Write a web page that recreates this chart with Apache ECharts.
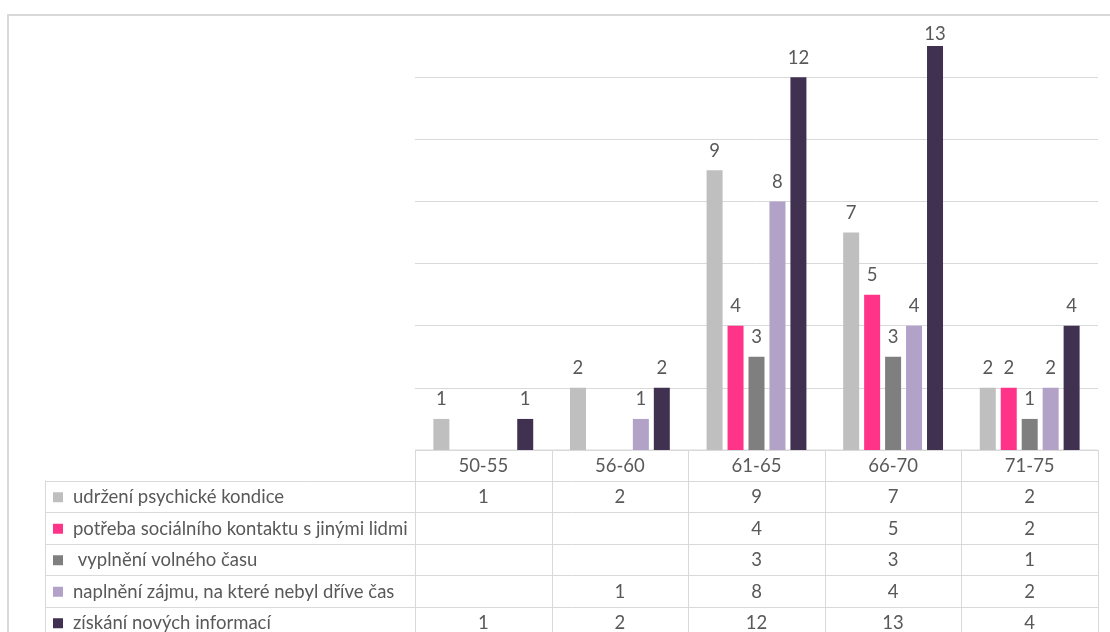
<!DOCTYPE html>
<html>
<head>
<meta charset="utf-8">
<style>
html,body{margin:0;padding:0;background:#fff;overflow:hidden;}
#c{width:1110px;height:632px;}
</style>
<script src="https://cdn.jsdelivr.net/npm/echarts@6/dist/echarts.min.js"></script>
</head>
<body>
<div id="c"></div>
<script>
const categories = ['50-55', '56-60', '61-65', '66-70', '71-75'];
const seriesNames = [
  'udržení psychické kondice',
  'potřeba sociálního kontaktu s jinými lidmi',
  ' vyplnění volného času',
  'naplnění zájmu, na které nebyl dříve čas',
  'získání nových informací'
];
const udrzeni = [1, 2, 9, 7, 2];
const potreba = [null, null, 4, 5, 2];
const vyplneni = [null, null, 3, 3, 1];
const naplneni = [null, 1, 8, 4, 2];
const ziskani = [1, 2, 12, 13, 4];
const seriesData = [udrzeni, potreba, vyplneni, naplneni, ziskani];
const colors = ['#bfbfbf', '#ff3388', '#7f7f7f', '#b3a2c7', '#403151'];

const FONT = 'Lato, "Open Sans", sans-serif';
const FS = 18.5;
const TXT = '#595959';
const LINE = '#d9d9d9';

const W = 1110, H = 632;
const gridLeft = 415, gridRight = 12, gridTop = 15, axisY = 450;
const headerH = 30.5, rowH = 31.5, legendLeft = 45;
const yMax = 14;

const chart = echarts.init(document.getElementById('c'), null, {renderer: 'canvas'});

const plotW = W - gridLeft - gridRight;
const colW = plotW / categories.length;

const g = [];
// outer border
g.push({type: 'rect', shape: {x: 8, y: 15, width: W + 20, height: H + 20},
  style: {fill: 'none', stroke: LINE, lineWidth: 2}, silent: true, z: 0});

// table lines
const nRows = seriesNames.length;
const tableBottom = axisY + headerH + rowH * nRows;
g.push({type: 'line', shape: {x1: gridLeft, y1: axisY, x2: gridLeft + plotW, y2: axisY},
  style: {stroke: LINE, lineWidth: 1}, silent: true});
for (let r = 0; r <= nRows; r++) {
  const y = Math.round(axisY + headerH + r * rowH) + 0.5;
  g.push({type: 'line', shape: {x1: legendLeft, y1: y, x2: gridLeft + plotW, y2: y},
    style: {stroke: LINE, lineWidth: 1}, silent: true});
}
for (let c = 0; c <= categories.length; c++) {
  const x = Math.round(gridLeft + c * colW) + 0.5;
  g.push({type: 'line', shape: {x1: x, y1: axisY, x2: x, y2: tableBottom},
    style: {stroke: LINE, lineWidth: 1}, silent: true});
}
g.push({type: 'line', shape: {x1: legendLeft + 0.5, y1: axisY + headerH, x2: legendLeft + 0.5, y2: tableBottom},
  style: {stroke: LINE, lineWidth: 1}, silent: true});

// header labels
categories.forEach((cat, c) => {
  g.push({type: 'text', x: gridLeft + (c + 0.5) * colW, y: axisY + headerH / 2 + 1,
    style: {text: cat, fill: TXT, font: FS + 'px ' + FONT, align: 'center', verticalAlign: 'middle'}, silent: true});
});
// rows
seriesNames.forEach((name, r) => {
  const cy = axisY + headerH + (r + 0.5) * rowH + 1;
  g.push({type: 'rect', shape: {x: 53, y: cy - 5, width: 10, height: 10},
    style: {fill: colors[r]}, silent: true});
  g.push({type: 'text', x: 73, y: cy,
    style: {text: name, fill: TXT, font: FS + 'px ' + FONT, align: 'left', verticalAlign: 'middle'}, silent: true});
  seriesData[r].forEach((v, c) => {
    if (v === null) return;
    g.push({type: 'text', x: gridLeft + (c + 0.5) * colW, y: cy,
      style: {text: String(v), fill: TXT, font: FS + 'px ' + FONT, align: 'center', verticalAlign: 'middle'}, silent: true});
  });
});

chart.setOption({
  animation: false,
  backgroundColor: '#fff',
  grid: {left: gridLeft, right: gridRight, top: gridTop, bottom: H - axisY, containLabel: false},
  xAxis: {
    type: 'category', data: categories,
    axisLine: {show: false}, axisTick: {show: false}, axisLabel: {show: false}
  },
  yAxis: {
    type: 'value', min: 0, max: yMax, interval: 2,
    axisLine: {show: false}, axisTick: {show: false}, axisLabel: {show: false},
    splitLine: {lineStyle: {color: LINE, width: 1}}
  },
  series: seriesNames.map((name, i) => ({
    name: name, type: 'bar',
    // labels near the top edge are pulled closer to the bar (as the source does)
    data: seriesData[i].map(v => (v !== null && v > yMax - 1.5) ? {value: v, label: {distance: 3}} : v),
    barWidth: 16, barGap: '31%',
    itemStyle: {color: colors[i]},
    label: {show: true, position: 'top', distance: 10, color: TXT, fontSize: FS, fontFamily: FONT}
  })),
  graphic: g
});
</script>
</body>
</html>
